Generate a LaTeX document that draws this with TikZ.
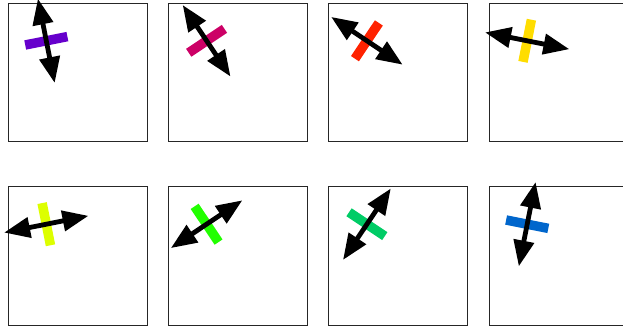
\documentclass[tikz,border=0pt]{standalone}
\usetikzlibrary{arrows.meta,calc}
\definecolor{cA}{RGB}{102,0,204}
\definecolor{cB}{RGB}{204,0,102}
\definecolor{cC}{RGB}{255,34,0}
\definecolor{cD}{RGB}{255,221,0}
\definecolor{cE}{RGB}{221,255,0}
\definecolor{cF}{RGB}{34,255,0}
\definecolor{cG}{RGB}{0,204,102}
\definecolor{cH}{RGB}{0,102,204}
\tikzset{
  panel/.style={draw=black!85, line width=1pt},
  bar/.style={rectangle, inner sep=0pt, minimum width=9.5pt, minimum height=43pt},
  dblarrow/.style={line width=4.8pt, black,
    {Triangle[length=26pt,width=20pt]}-{Triangle[length=26pt,width=20pt]}}
}
\begin{document}
\begin{tikzpicture}[x=1pt,y=1pt]
\useasboundingbox (0,0) rectangle (623,-329);
\clip (0,0) rectangle (623,-329);
\foreach \i/\c/\r/\col in {1/0/0/cA,2/1/0/cB,3/2/0/cC,4/3/0/cD,5/0/1/cE,6/1/1/cF,7/2/1/cG,8/3/1/cH}{
  \pgfmathsetmacro\ang{101.25+22.5*(\i-1)}
  \pgfmathsetmacro\bx{8.3+160.3*\c}
  \pgfmathsetmacro\by{-(3.3+183.4*\r)}
  \coordinate (p\i) at (\bx,\by);
  \draw[panel] (p\i) rectangle ++(139,-138.4);
  \coordinate (c\i) at ($(p\i)+(38,-37.5)$);
  \node[bar, fill=\col, rotate=\ang] (bar\i) at (c\i) {};
  \path (c\i) ++(\ang:43) coordinate (a\i);
  \path (c\i) ++(\ang+180:43) coordinate (b\i);
  \draw[dblarrow] (b\i) -- (a\i);
}
\end{tikzpicture}
\end{document}
